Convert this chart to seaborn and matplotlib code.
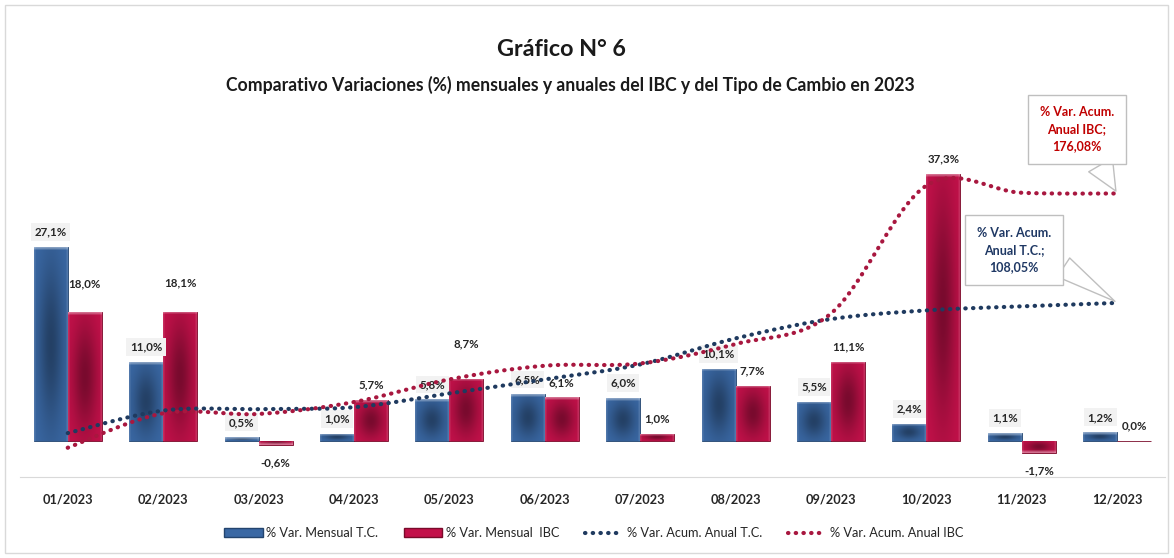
import numpy as np
import pandas as pd
import matplotlib
matplotlib.use("Agg")
import matplotlib.pyplot as plt
from matplotlib.colors import to_rgb
from matplotlib.patches import Patch, Rectangle
from matplotlib.lines import Line2D
import seaborn as sns

# data
months = ["01/2023", "02/2023", "03/2023", "04/2023", "05/2023", "06/2023",
          "07/2023", "08/2023", "09/2023", "10/2023", "11/2023", "12/2023"]
tc_monthly = [27.1, 11.0, 0.5, 1.0, 5.8, 6.5, 6.0, 10.1, 5.5, 2.4, 1.1, 1.2]
ibc_monthly = [18.0, 18.1, -0.6, 5.7, 8.7, 6.1, 1.0, 7.7, 11.1, 37.3, -1.7, 0.0]
tc_cumulative = [27.1, 41.1, 42.0, 43.2, 51.8, 60.5, 69.8, 86.0, 98.0, 103.4, 105.9, 108.05]
ibc_cumulative = [18.0, 39.4, 39.0, 46.4, 60.5, 69.0, 70.4, 82.5, 101.5, 181.0, 176.5, 176.08]

series_names = ["% Var. Mensual T.C.", "% Var. Mensual  IBC",
                "% Var. Acum. Anual T.C.", "% Var. Acum. Anual IBC"]

BLUE = "#3A68A4"
RED = "#C3114A"
BLUE_DOT = "#1F3A5F"
RED_DOT = "#A8173F"

W, H = 1174, 558
PX_PER_UNIT = (476.7 - 155) / 45


def smooth(y, n=30):
    # excel-style smoothed line (bezier with 1/6 tangents)
    y = np.asarray(y, dtype=float)
    x = np.arange(len(y), dtype=float)
    px = np.concatenate([[x[0]], x, [x[-1]]])
    py = np.concatenate([[y[0]], y, [y[-1]]])
    xs, ys = [], []
    t = np.linspace(0, 1, n)
    for i in range(len(y) - 1):
        p0x, p0y = px[i + 1], py[i + 1]
        p3x, p3y = px[i + 2], py[i + 2]
        c1x = p0x + (px[i + 2] - px[i]) / 6
        c1y = p0y + (py[i + 2] - py[i]) / 6
        c2x = p3x - (px[i + 3] - px[i + 1]) / 6
        c2y = p3y - (py[i + 3] - py[i + 1]) / 6
        b0, b1, b2, b3 = (1 - t) ** 3, 3 * t * (1 - t) ** 2, 3 * t ** 2 * (1 - t), t ** 3
        xs.append(b0 * p0x + b1 * c1x + b2 * c2x + b3 * p3x)
        ys.append(b0 * p0y + b1 * c1y + b2 * c2y + b3 * p3y)
    return np.concatenate(xs), np.concatenate(ys)


def shade_bar(ax, bar, base):
    # fake the office "3d" fill: dark middle, light rim, thin bright top bevel
    h = bar.get_height()
    if abs(h) < 1e-9:
        return
    rgb = np.array(to_rgb(base))
    ny = max(int(abs(h) * PX_PER_UNIT) + 1, 4)
    nx = 34
    gx = np.linspace(-1, 1, nx)[None, :]
    gy = np.linspace(-1, 1, ny)[:, None]
    dark = 0.38 * np.exp(-(gx ** 2) / 0.55 - (gy ** 2) / 0.7)
    img = np.ones((ny, nx, 3)) * rgb
    img = img * (1 - dark[..., None])
    rim = np.clip(np.abs(gx) - 0.88, 0, None) / 0.12
    img = img + (1 - img) * 0.12 * rim[..., None]
    top = np.zeros((ny, 1))
    top[:3, 0] = [0.40, 0.28, 0.12]
    img = img + (1 - img) * top[..., None]
    img = np.clip(img, 0, 1)
    y0, y1 = sorted([bar.get_y(), bar.get_y() + h])
    if h < 0:
        img = img[::-1]
    im = ax.imshow(img, extent=[bar.get_x(), bar.get_x() + bar.get_width(), y0, y1],
                   origin="upper", aspect="auto", interpolation="bilinear",
                   zorder=bar.get_zorder() + 0.05)
    im.set_clip_path(bar)


def fmt(v):
    return f"{v:.1f}".replace(".", ",") + "%"


sns.set_style("white")
plt.rcParams["font.family"] = ["Lato", "DejaVu Sans"]

df = pd.DataFrame({
    "Mes": months * 2,
    "Serie": [series_names[0]] * 12 + [series_names[1]] * 12,
    "Valor": tc_monthly + ibc_monthly,
})

fig = plt.figure(figsize=(W / 100, H / 100), dpi=100)
ax = fig.add_axes([20 / W, (H - 476.7) / H, 1145 / W, (476.7 - 155) / H])

sns.barplot(data=df, x="Mes", y="Valor", hue="Serie", palette=[BLUE, RED],
            width=0.712, errorbar=None, ax=ax, legend=False,
            edgecolor="#23446E", linewidth=0.6, saturation=1)
for bar in ax.containers[0]:
    shade_bar(ax, bar, BLUE)
for bar in ax.containers[1]:
    bar.set_edgecolor("#7A0A2A")
    shade_bar(ax, bar, RED)

ax.set_xlim(-0.5, 11.5)
ax.set_ylim(-5, 40)
ax.set_yticks([])
ax.set_xlabel("")
ax.set_ylabel("")
for side in ["top", "left", "right"]:
    ax.spines[side].set_visible(False)
ax.spines["bottom"].set_color("#D9D9D9")
ax.tick_params(axis="x", length=0, pad=12)
for lbl in ax.get_xticklabels():
    lbl.set_fontweight("bold")
    lbl.set_fontsize(9.2)

# data labels (pixel offsets, a few moved by hand in the original)
ibc_offsets = {0: 28, 1: 29, 4: 35}
for i, (bar, v) in enumerate(zip(ax.containers[0], tc_monthly)):
    off = 15 if v >= 0 else -18
    ax.annotate(fmt(v), (bar.get_x() + bar.get_width() / 2, v),
                xytext=(0, off * 0.72), textcoords="offset points", ha="center", va="center",
                fontsize=8.3, fontweight="bold", color="#262626",
                bbox=dict(boxstyle="square,pad=0.3", fc="#F2F2F2", ec="none"), zorder=5)
for i, (bar, v) in enumerate(zip(ax.containers[1], ibc_monthly)):
    off = ibc_offsets.get(i, 15) if v >= 0 else -18
    ax.annotate(fmt(v), (bar.get_x() + bar.get_width() / 2, v),
                xytext=(0, off * 0.72), textcoords="offset points", ha="center", va="center",
                fontsize=8.3, fontweight="bold", color="#262626", zorder=5)

# cumulative lines on secondary axis
ax2 = ax.twinx()
ax2.set_ylim(0, 200)
ax2.set_yticks([])
for side in ["top", "left", "right", "bottom"]:
    ax2.spines[side].set_visible(False)

for vals, col in [(tc_cumulative, BLUE_DOT), (ibc_cumulative, RED_DOT)]:
    xs, ys = smooth(vals)
    ax2.plot(xs, ys, color=col, lw=3.0, linestyle=(0, (0.1, 1.75)),
             dash_capstyle="round", zorder=4)

# callouts
ax2.annotate("% Var. Acum.\nAnual IBC;\n" + f"{ibc_cumulative[-1]:.2f}".replace(".", ",") + "%",
             xy=(11, ibc_cumulative[-1]), xytext=(1077 / W, 1 - 129.5 / H),
             textcoords="figure fraction", ha="center", va="center",
             fontsize=9, fontweight="bold", color="#C00000", linespacing=1.5,
             bbox=dict(boxstyle="square,pad=0.95", fc="white", ec="#BFBFBF", lw=1),
             arrowprops=dict(arrowstyle="wedge,tail_width=2.2,shrink_factor=0.5",
                             fc="white", ec="#BFBFBF", relpos=(0.72, 0.0),
                             shrinkA=0, shrinkB=2),
             annotation_clip=False, zorder=6)
ax2.annotate("% Var. Acum.\nAnual T.C.;\n" + f"{tc_cumulative[-1]:.2f}".replace(".", ",") + "%",
             xy=(11, tc_cumulative[-1]), xytext=(1014 / W, 1 - 250 / H),
             textcoords="figure fraction", ha="center", va="center",
             fontsize=9, fontweight="bold", color="#1F3864", linespacing=1.5,
             bbox=dict(boxstyle="square,pad=0.95", fc="white", ec="#BFBFBF", lw=1),
             arrowprops=dict(arrowstyle="wedge,tail_width=1.8,shrink_factor=0.5",
                             fc="white", ec="#BFBFBF", relpos=(1.0, 0.3),
                             shrinkA=0, shrinkB=2),
             annotation_clip=False, zorder=6)

# titles
fig.text(561 / W, 1 - 50 / H, "Gráfico N° 6", ha="center", va="center",
         fontsize=16.8, fontweight="bold", color="#1A1A1A")
fig.text(570 / W, 1 - 85 / H,
         "Comparativo Variaciones (%) mensuales y anuales del IBC y del Tipo de Cambio en 2023",
         ha="center", va="center", fontsize=12.7, fontweight="bold", color="#1A1A1A")

# legend
handles = [
    Patch(facecolor=BLUE, edgecolor="#23446E"),
    Patch(facecolor=RED, edgecolor="#7A0A2A"),
    Line2D([], [], color=BLUE_DOT, lw=3.0, linestyle=(0, (0.1, 1.75)), dash_capstyle="round"),
    Line2D([], [], color=RED_DOT, lw=3.0, linestyle=(0, (0.1, 1.75)), dash_capstyle="round"),
]
fig.legend(handles, series_names, loc="center", bbox_to_anchor=(594 / W, 1 - 533 / H),
           ncol=4, frameon=False, fontsize=9.2, handlelength=3.0, handleheight=0.6,
           columnspacing=2.0, handletextpad=0.3)

fig.patches.append(Rectangle((5 / W, 5 / H), (1168 - 5) / W, (H - 10) / H,
                             transform=fig.transFigure, fill=False, ec="#D9D9D9", lw=1))

fig.savefig("out.png", dpi=100)
